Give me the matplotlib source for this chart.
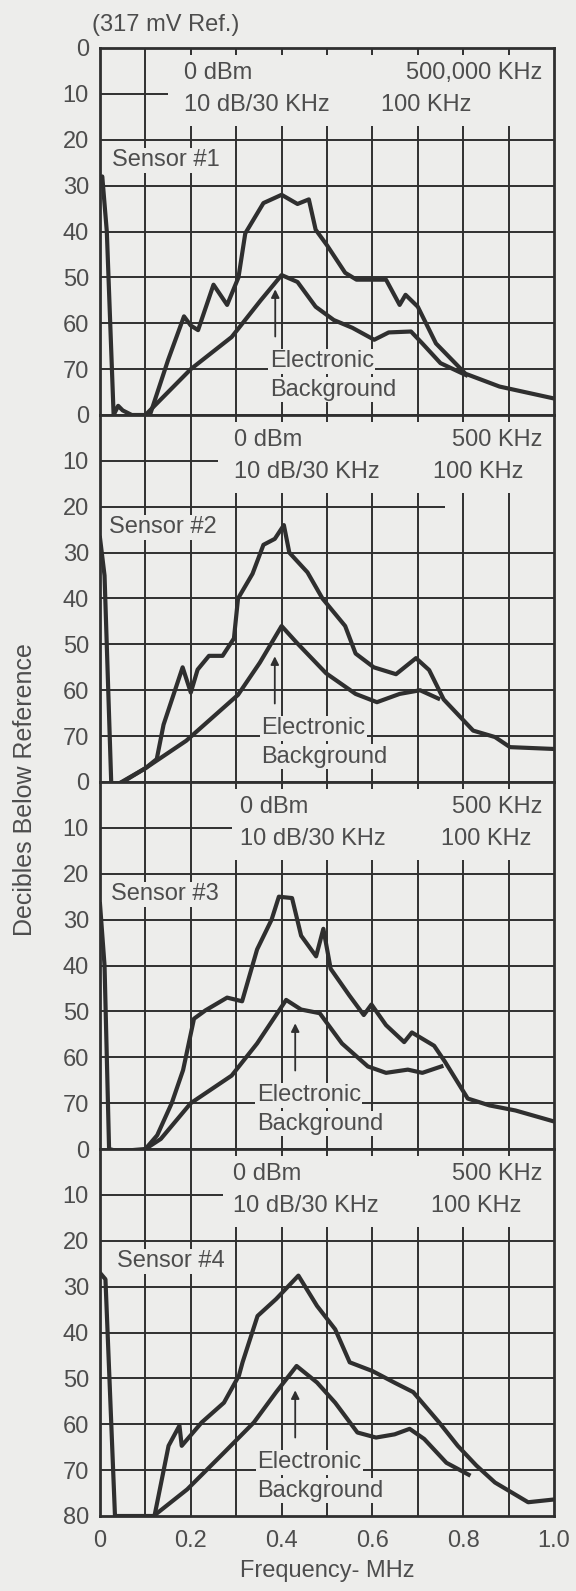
import matplotlib
matplotlib.use("Agg")
import matplotlib.pyplot as plt

plt.rcParams['font.family'] = ['Liberation Sans', 'DejaVu Sans']

# signal traces (frequency MHz, dB below reference)
s1_f = [0, 0.005, 0.015, 0.03, 0.04, 0.05, 0.07, 0.1, 0.11, 0.15, 0.185, 0.2, 0.216, 0.25, 0.28, 0.305, 0.32,
        0.36, 0.40, 0.435, 0.46, 0.475, 0.5, 0.54, 0.565, 0.63, 0.66, 0.673, 0.70, 0.74, 0.805, 0.88, 1.0]
s1_db = [29, 28, 40, 80, 78, 79, 80, 80, 80, 68, 58.5, 60.5, 61.5, 51.6, 56, 50, 40.4,
         33.8, 32, 34, 33, 39.6, 43, 49, 50.5, 50.5, 56, 53.8, 56.4, 64.4, 71, 73.8, 76.4]
b1_f = [0.10, 0.2, 0.29, 0.354, 0.40, 0.435, 0.475, 0.515, 0.556, 0.604, 0.636, 0.685, 0.71, 0.75, 0.806]
b1_db = [80, 70, 63, 55, 49.5, 51, 56.4, 59.3, 61, 63.6, 62, 61.8, 64.4, 68.7, 71.3]

s2_f = [0, 0.01, 0.025, 0.05, 0.1, 0.125, 0.14, 0.182, 0.2, 0.215, 0.24, 0.27, 0.295, 0.304, 0.336, 0.36,
        0.385, 0.405, 0.417, 0.457, 0.49, 0.54, 0.563, 0.603, 0.652, 0.696, 0.725, 0.757, 0.822, 0.87, 0.903, 1.0]
s2_db = [26.8, 35, 81, 80, 77, 75, 67.5, 55, 60.5, 55.5, 52.5, 52.5, 48.7, 40, 34.6, 28.3,
         27, 24, 30, 34.3, 40, 46, 52, 55, 56.5, 53, 55.6, 62, 68.8, 70.2, 72.4, 72.8]
b2_f = [0.03, 0.1, 0.19, 0.304, 0.352, 0.4, 0.433, 0.498, 0.563, 0.61, 0.66, 0.705, 0.745]
b2_db = [81, 77, 71, 61, 54, 46, 49.6, 56.3, 60.8, 62.6, 60.8, 60, 61.8]

s3_f = [0, 0.01, 0.02, 0.04, 0.1, 0.126, 0.158, 0.183, 0.207, 0.232, 0.28, 0.313, 0.346, 0.378, 0.394, 0.423,
        0.443, 0.476, 0.492, 0.508, 0.549, 0.581, 0.598, 0.63, 0.67, 0.687, 0.736, 0.76, 0.81, 0.858, 0.915, 1.0]
s3_db = [26.6, 40, 80, 80.5, 80, 77, 70, 62.8, 51.6, 49.8, 47, 47.8, 36.5, 30, 25, 25.3,
         33.5, 38, 32, 40.7, 46.5, 50.8, 48.5, 53, 56.7, 54.6, 57.5, 61, 69, 70.5, 71.6, 74]
b3_f = [0.1, 0.134, 0.2, 0.29, 0.346, 0.41, 0.443, 0.484, 0.533, 0.59, 0.63, 0.678, 0.71, 0.752]
b3_db = [80, 77.8, 70, 64, 57, 47.5, 49.6, 50.4, 57, 62, 63.4, 62.7, 63.4, 62]

s4_f = [0, 0.012, 0.033, 0.06, 0.12, 0.151, 0.175, 0.18, 0.224, 0.273, 0.306, 0.314, 0.347, 0.388,
        0.437, 0.478, 0.518, 0.55, 0.6, 0.65, 0.69, 0.747, 0.788, 0.829, 0.87, 0.943, 1.0]
s4_db = [27, 28.4, 80, 80, 80, 64.7, 60.3, 64.7, 59.6, 55.3, 49.4, 46.5, 36.4, 32.7,
         27.6, 34.2, 39.3, 46.5, 48.4, 51, 53, 59.6, 64.7, 69, 72.7, 77, 76.4]
b4_f = [0.118, 0.192, 0.273, 0.339, 0.388, 0.433, 0.478, 0.518, 0.567, 0.608, 0.649, 0.682, 0.714, 0.763, 0.812]
b4_db = [80, 74.2, 66.2, 59.6, 53, 47.3, 50.9, 55.3, 61.8, 62.9, 62.2, 61, 63.2, 68.4, 71]

signals = [(s1_f, s1_db), (s2_f, s2_db), (s3_f, s3_db), (s4_f, s4_db)]
backgrounds = [(b1_f, b1_db), (b2_f, b2_db), (b3_f, b3_db), (b4_f, b4_db)]
sensor_names = ["Sensor #1", "Sensor #2", "Sensor #3", "Sensor #4"]
span_labels = ["500,000 KHz", "500 KHz", "500 KHz", "500 KHz"]
arrow_f = [0.386, 0.385, 0.43, 0.43]
yticks = [0, 10, 20, 30, 40, 50, 60, 70]
xticks = [0, 0.2, 0.4, 0.6, 0.8, 1.0]
xtick_labels = ["0", "0.2", "0.4", "0.6", "0.8", "1.0"]

# layout of the annotation text in each panel
dbm_x = [0.184, 0.295, 0.309, 0.294]
khz_x = [0.62, 0.733, 0.752, 0.73]
sensor_x = [0.027, 0.02, 0.024, 0.037]
elec_x = [0.374, 0.356, 0.345, 0.347]
h10_end = [0.15, 0.26, 0.29, 0.27]
h20_end = [1.0, 0.76, 1.0, 1.0]

bg = '#ededeb'
ink = '#2f2f2f'
txt = '#4d4d4d'
fs = 17

W, H = 576, 1591
fig = plt.figure(figsize=(W / 100, H / 100), dpi=100, facecolor=bg)
left, right, top, ph = 100, 554, 48, 367

for i in range(4):
    ax = fig.add_axes([left / W, 1 - (top + (i + 1) * ph) / H, (right - left) / W, ph / H])
    ax.set_facecolor(bg)
    ax.set_xlim(0, 1.0)
    ax.set_ylim(80, 0)

    # hand-drawn style grid
    gkw = dict(color=ink, lw=1.4, zorder=1)
    ax.hlines(10, 0, h10_end[i], **gkw)
    ax.hlines(20, 0, h20_end[i], **gkw)
    for v in range(30, 80, 10):
        ax.hlines(v, 0, 1.0, **gkw)
    full = [0.1] if i == 0 else [0.1, 0.2]
    for k in range(1, 10):
        xv = k / 10
        if any(abs(xv - f) < 1e-6 for f in full):
            ax.vlines(xv, 0, 80, **gkw)
        else:
            ax.vlines(xv, 17, 80, **gkw)
            ax.vlines(xv, 0, 1.5, **gkw)

    sf, sd = signals[i]
    bf, bd = backgrounds[i]
    ax.plot(bf, bd, color=ink, lw=3.0, zorder=3, solid_joinstyle='round')
    ax.plot(sf, sd, color=ink, lw=3.0, zorder=3, solid_joinstyle='round')

    tkw = dict(fontsize=fs, color=txt, zorder=4)
    boxed = dict(facecolor=bg, edgecolor='none', pad=1)
    ax.text(dbm_x[i], 5.5, "0 dBm", va='center', ha='left', **tkw)
    ax.text(dbm_x[i], 12.5, "10 dB/30 KHz", va='center', ha='left', **tkw)
    ax.text(0.975, 5.5, span_labels[i], va='center', ha='right', **tkw)
    ax.text(khz_x[i], 12.5, "100 KHz", va='center', ha='left', **tkw)
    ax.text(sensor_x[i], 24.5, sensor_names[i], va='center', ha='left', bbox=boxed, **tkw)
    ax.text(elec_x[i], 68.3, "Electronic", va='center', ha='left', bbox=boxed, **tkw)
    ax.text(elec_x[i], 74.5, "Background", va='center', ha='left', bbox=boxed, **tkw)
    ax.annotate('', xy=(arrow_f[i], 52), xytext=(arrow_f[i], 63.5),
                arrowprops=dict(arrowstyle='-|>', color=ink, lw=1.3, mutation_scale=12), zorder=4)

    for s in ax.spines.values():
        s.set_linewidth(2.0)
        s.set_color(ink)

    ticks = yticks + [80] if i == 3 else yticks
    ax.set_yticks(ticks)
    ax.set_yticklabels([str(t) for t in ticks])
    ax.tick_params(axis='y', length=0, pad=8, labelsize=fs, labelcolor=txt)
    if i == 3:
        ax.set_xticks(xticks)
        ax.set_xticklabels(xtick_labels)
        ax.tick_params(axis='x', length=0, pad=10, labelsize=fs, labelcolor=txt)
        ax.set_xlabel("Frequency- MHz", fontsize=fs, color=txt, labelpad=6)
    else:
        ax.set_xticks([])

fig.text(92 / W, 1 - 25 / H, "(317 mV Ref.)", fontsize=fs, color=txt, ha='left', va='center')
fig.text(25 / W, 1 - 790 / H, "Decibles Below Reference", fontsize=18, color=txt,
         rotation=90, ha='center', va='center')

fig.savefig("out.png", dpi=100, facecolor=bg)
